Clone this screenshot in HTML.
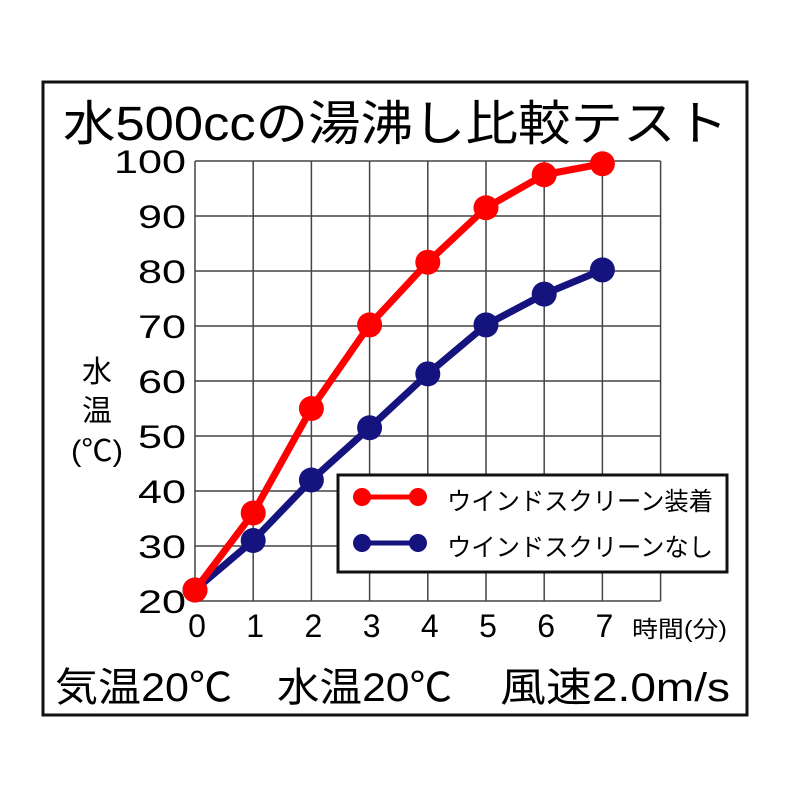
<!DOCTYPE html>
<html><head><meta charset="utf-8"><style>
html,body{margin:0;padding:0;background:#fff;}
svg{display:block;font-family:"Liberation Sans","Noto Sans CJK JP",sans-serif;}
</style></head><body>
<svg id="chart" width="800" height="800" viewBox="0 0 800 800">
<rect x="43" y="82" width="704" height="633" fill="#fff" stroke="#111" stroke-width="3"/>
<text x="63" y="140" font-size="48" textLength="665" lengthAdjust="spacingAndGlyphs" fill="#000">水500ccの湯沸し比較テスト</text>
<g id="grid"></g>
<g id="yticks"></g>
<g id="xticks"></g>
<text x="632" y="637" font-size="23" textLength="95" lengthAdjust="spacingAndGlyphs">時間(分)</text>
<g font-size="30" text-anchor="middle">
<text x="97" y="382">水</text><text x="97" y="421">温</text><text x="97" y="461" textLength="52" lengthAdjust="spacingAndGlyphs">(℃)</text>
</g>
<g id="series"></g>
<g>
<rect x="338" y="475" width="389" height="97" fill="#fff" stroke="#111" stroke-width="3"/>
<line x1="362" y1="497" x2="418" y2="497" stroke="#ff0000" stroke-width="5"/>
<circle cx="362" cy="497" r="9" fill="#ff0000"/><circle cx="418" cy="497" r="9" fill="#ff0000"/>
<text x="447" y="510" font-size="25" textLength="266" lengthAdjust="spacingAndGlyphs">ウインドスクリーン装着</text>
<line x1="362" y1="543" x2="418" y2="543" stroke="#15137d" stroke-width="5"/>
<circle cx="362" cy="543" r="9" fill="#15137d"/><circle cx="418" cy="543" r="9" fill="#15137d"/>
<text x="447" y="556" font-size="25" textLength="266" lengthAdjust="spacingAndGlyphs">ウインドスクリーンなし</text>
</g>
<g font-size="40">
<text x="55" y="701" textLength="177" lengthAdjust="spacingAndGlyphs">気温20℃</text>
<text x="277" y="701" textLength="175" lengthAdjust="spacingAndGlyphs">水温20℃</text>
<text x="500" y="701" textLength="230" lengthAdjust="spacingAndGlyphs">風速2.0m/s</text>
</g>
</svg>
<script>
const minutes = [0,1,2,3,4,5,6,7];
const withScreen = [22,36,55,70.2,81.6,91.5,97.5,99.5];
const withoutScreen = [22,31,42,51.5,61.3,70.2,75.8,80.2];
const yTickLabels = [20,30,40,50,60,70,80,90,100];
const xTickLabels = [0,1,2,3,4,5,6,7];
const NS="http://www.w3.org/2000/svg";
const x = v => 195 + v*58.2;
const y = v => 601 - (v-20)*5.5;
function mk(tag, attrs, parent){const e=document.createElementNS(NS,tag);for(const k in attrs)e.setAttribute(k,attrs[k]);parent.appendChild(e);return e;}
const grid=document.getElementById('grid');
for(let i=0;i<=8;i++){const l=mk('line',{x1:x(i),x2:x(i),y1:y(100),y2:y(20),stroke:'#444','stroke-width':1.5},grid);

}
yTickLabels.forEach(t=>{const l=mk('line',{x1:x(0),x2:x(8),y1:y(t),y2:y(t),stroke:'#444','stroke-width':1.5},grid);

});
const yt=document.getElementById('yticks');
yTickLabels.forEach(t=>{const s=String(t);const e=mk('text',{x:186,y:y(t)+12,'font-size':32,'text-anchor':'end',textLength:s.length*24,lengthAdjust:'spacingAndGlyphs'},yt);e.textContent=s;

});
const xt=document.getElementById('xticks');
xTickLabels.forEach(t=>{const e=mk('text',{x:x(t)+2,y:637,'font-size':32,'text-anchor':'middle'},xt);e.textContent=t;

});
const sg=document.getElementById('series');
function drawSeries(vals,color,name){
 const g=mk('g',{},sg);
 
 
 const pl=mk('polyline',{points:vals.map((v,i)=>x(minutes[i])+','+y(v)).join(' '),fill:'none',stroke:color,'stroke-width':7,'stroke-linejoin':'round'},g);
 
 
 vals.forEach((v,i)=>{const c=mk('circle',{cx:x(minutes[i]),cy:y(v),r:12.5,fill:color},g);
 
 });
}
drawSeries(withoutScreen,'#15137d','without-windscreen-series');
drawSeries(withScreen,'#ff0000','with-windscreen-series');
</script>
</body></html>
